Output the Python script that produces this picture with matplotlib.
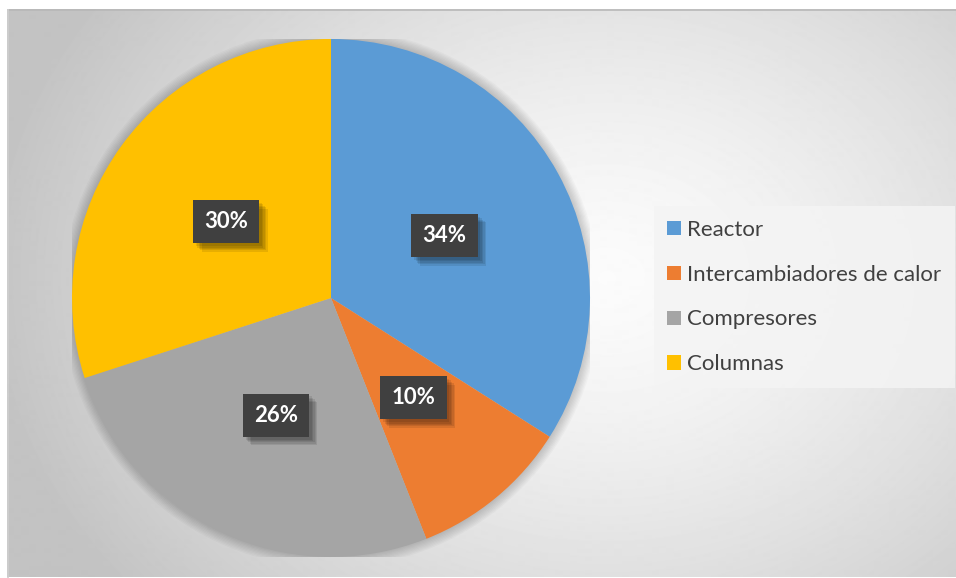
import numpy as np
import matplotlib.pyplot as plt
from matplotlib.patches import Patch, Circle
import matplotlib.patheffects as pe

categorias = ['Reactor', 'Intercambiadores de calor', 'Compresores', 'Columnas']
porcentajes = [34, 10, 26, 30]
colores = ['#5B9BD5', '#ED7D31', '#A5A5A5', '#FFC000']

W, H = 956, 578
fig = plt.figure(figsize=(W / 100, H / 100), dpi=100)
fig.patch.set_facecolor('white')

# fondo con degradado radial
bg = fig.add_axes([7 / W, 0, 1 - 7 / W, 1 - 9 / H])
yy, xx = np.mgrid[0:H - 9, 0:W - 7]
d = np.hypot(xx - 600, (yy - 270) * 1.25) / 620
d = np.clip(d, 0, 1)
shade = 0.985 - 0.22 * d ** 1.4
bg.imshow(shade, cmap='gray', vmin=0, vmax=1, aspect='auto', interpolation='bilinear')
bg.set_xticks([])
bg.set_yticks([])
for s in bg.spines.values():
    s.set_visible(False)
bg.plot([0, W], [0.5, 0.5], color='#b8b8b8', lw=1.2)
bg.plot([0.5, 0.5], [0, H], color='#cfcfcf', lw=1.2)
bg.set_xlim(0, W - 7)
bg.set_ylim(H - 9, 0)

# pastel
ax = fig.add_axes([72 / W, 21 / H, 518 / W, 518 / H])
ax.axis('off')

wedges, _ = ax.pie(porcentajes, colors=colores, startangle=90, counterclock=False,
                   radius=1.0, wedgeprops=dict(linewidth=0))

# sombra suave alrededor del pastel
for k in range(8):
    ax.add_patch(Circle((0, 0), 1.0 + 0.005 * (k + 1), color='k', alpha=0.022, lw=0, zorder=0))

ax.set_xlim(-1, 1)
ax.set_ylim(-1, 1)
ax.set_aspect('equal')

# sombra difusa de las etiquetas
sombra = [pe.SimplePatchShadow(offset=(o, -o), shadow_rgbFace='k', alpha=0.09)
          for o in (6, 5, 4, 3, 2)] + [pe.Normal()]

for w, p in zip(wedges, porcentajes):
    ang = np.deg2rad((w.theta1 + w.theta2) / 2)
    t = ax.text(0.5 * np.cos(ang), 0.5 * np.sin(ang), f'{p}%', ha='center', va='center',
                color='white', fontsize=16, fontweight='bold', family='Lato',
                bbox=dict(boxstyle='square,pad=0.5', facecolor='#404040', edgecolor='none'))
    t.get_bbox_patch().set_path_effects(sombra)

handles = [Patch(facecolor=c, edgecolor='none') for c in colores]
leg = fig.legend(handles, categorias, loc='center left', bbox_to_anchor=(654 / W, 1 - 297 / H),
                 frameon=True, fancybox=False, labelspacing=1.12,
                 handlelength=0.6, handleheight=0.6, handletextpad=0.3,
                 borderpad=0.6, borderaxespad=0, prop={'family': 'Lato', 'size': 16})
leg.get_frame().set_facecolor('#f4f4f4')
leg.get_frame().set_edgecolor('none')
leg.get_frame().set_alpha(0.85)
for tx in leg.get_texts():
    tx.set_color('#404040')

fig.savefig('out.png', dpi=100)
